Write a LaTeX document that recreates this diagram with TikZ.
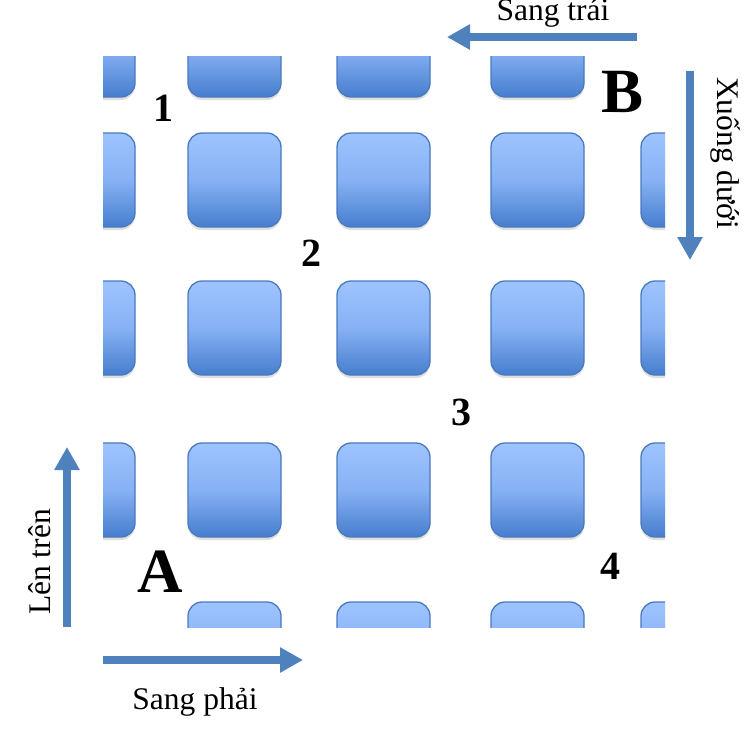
\documentclass[tikz,border=0pt]{standalone}
\usepackage{fontspec}
\setmainfont{Liberation Serif}
\usetikzlibrary{arrows.meta, shadows}

\definecolor{arrowblue}{RGB}{79,129,189}
\definecolor{tileedge}{RGB}{74,122,190}
\definecolor{tiletop}{RGB}{158,196,255}
\definecolor{tilemid}{RGB}{135,177,244}
\definecolor{tilebottom}{RGB}{70,126,206}

\tikzset{
  tile/.style={rounded corners=14pt, draw=tileedge, line width=1.3pt,
    top color=tiletop, bottom color=tilebottom, middle color=tilemid,
    drop shadow={shadow xshift=0pt, shadow yshift=-3pt, opacity=0.25}},
  bigarrow/.style={arrowblue, line width=8pt, -{Triangle[length=23pt,width=24pt]}},
  dirtext/.style={font=\fontsize{31.5}{36}\selectfont},
  stepnum/.style={font=\bfseries\fontsize{40}{44}\selectfont},
  endpoint/.style={font=\bfseries\fontsize{63}{68}\selectfont}
}

\begin{document}
\begin{tikzpicture}[x=1pt, y=-1pt]
\useasboundingbox (0,0) rectangle (747,731);

%the grid of tiles, cut to the board
\begin{scope}
\clip (103,56) rectangle (665,627);
\foreach \tx in {42,188,337,491}
  \draw[tile] (\tx,3) rectangle ++(93,94);
\foreach \tx in {42,188,337,491,641}
  \foreach \ty in {133,281,443}
    \draw[tile] (\tx,\ty) rectangle ++(93,94);
\foreach \tx in {188,337,491,641}
  \draw[tile] (\tx,602) rectangle ++(93,94);
\end{scope}

%the marks on the board
\node[endpoint] (B) at (623,92) {B};
\node[endpoint] (A) at (160,572) {A};
\node[stepnum] (s1) at (163,108) {1};
\node[stepnum] (s2) at (311,253) {2};
\node[stepnum] (s3) at (461,412) {3};
\node[stepnum] (s4) at (610,566) {4};

%direction arrows round the board
\coordinate (leftfrom) at (637,37);
\coordinate (leftto) at (447,37);
\coordinate (downfrom) at (690,71);
\coordinate (downto) at (690,260);
\coordinate (upfrom) at (67,627);
\coordinate (upto) at (67,447);
\coordinate (rightfrom) at (103,660);
\coordinate (rightto) at (303,660);

\draw[bigarrow] (leftfrom) -- (leftto);
\draw[bigarrow] (downfrom) -- (downto);
\draw[bigarrow] (upfrom) -- (upto);
\draw[bigarrow] (rightfrom) -- (rightto);

\node[dirtext, anchor=base] (lefttext) at (553,20) {Sang trái};
\node[dirtext, rotate=-90] (downtext) at (725,153) {Xuống dưới};
\node[dirtext, rotate=90] (uptext) at (40,562) {Lên trên};
\node[dirtext] (righttext) at (195,702) {Sang phải};

\end{tikzpicture}
\end{document}
